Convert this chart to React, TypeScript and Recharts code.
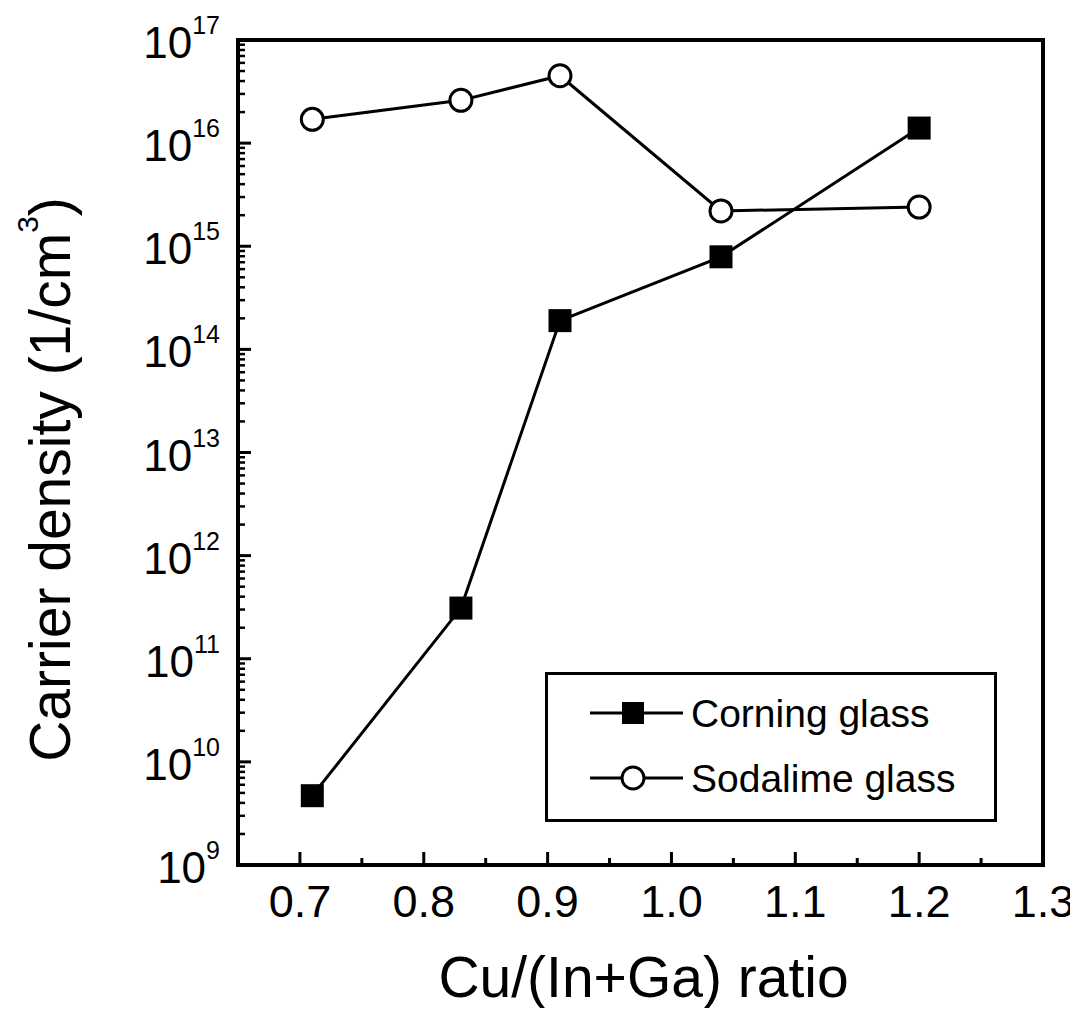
import React from 'react';
import { LineChart, Line, XAxis, YAxis, ReferenceArea, Legend } from 'recharts';

// ---- data ----
const cuRatio = [0.71, 0.83, 0.91, 1.04, 1.2];
const corningGlass = [4.7e9, 3.1e11, 1.9e14, 7.9e14, 1.4e16];
const sodalimeGlass = [1.7e16, 2.6e16, 4.5e16, 2.2e15, 2.4e15];

const seriesNames = ['Corning glass', 'Sodalime glass'];

const xTicks = [0.7, 0.75, 0.8, 0.85, 0.9, 0.95, 1.0, 1.05, 1.1, 1.15, 1.2, 1.25, 1.3];
const yMajorTicks = [1e9, 1e10, 1e11, 1e12, 1e13, 1e14, 1e15, 1e16, 1e17];
const yMinorMultipliers = [2, 3, 4, 5, 6, 7, 8, 9];

const xDomain = [0.65, 1.3];
const yDomain = [1e9, 1e17];

const yTicks: number[] = [];
yMajorTicks.forEach((m, i) => {
  yTicks.push(m);
  if (i < yMajorTicks.length - 1) yMinorMultipliers.forEach((k) => yTicks.push(m * k));
});

const data = cuRatio.map((x, i) => ({ x, corning: corningGlass[i], sodalime: sodalimeGlass[i] }));

const FONT = '"Liberation Sans", Arial, Helvetica, sans-serif';

const YTick = (props: any) => {
  const { x, y, payload } = props;
  const v = payload.value;
  const lg = Math.log10(v);
  const major = Math.abs(lg - Math.round(lg)) < 1e-6;
  const len = major ? 13 : 7;
  return (
    <g>
      <line x1={x} y1={y} x2={x + len} y2={y} stroke="#000" strokeWidth={major ? 3 : 2.5} />
      {major && (
        <text x={x - 18} y={y + 18} textAnchor="end" fontSize={44} fill="#000" fontFamily={FONT}>
          10
          <tspan dy={-24} fontSize={25}>
            {Math.round(lg)}
          </tspan>
        </text>
      )}
    </g>
  );
};

const XTick = (props: any) => {
  const { x, y, payload } = props;
  const v = payload.value;
  const major = Math.abs(v * 10 - Math.round(v * 10)) < 1e-6;
  const len = major ? 13 : 7;
  return (
    <g>
      <line x1={x} y1={y} x2={x} y2={y - len} stroke="#000" strokeWidth={3} />
      {major && (
        <text x={x} y={y + 52} textAnchor="middle" fontSize={45} fill="#000" fontFamily={FONT}>
          {v.toFixed(1)}
        </text>
      )}
    </g>
  );
};

const SquareDot = (props: any) => {
  const { cx, cy, index } = props;
  if (cx == null || cy == null) return <g key={`sq-${index}`} />;
  return <rect key={`sq-${index}`} x={cx - 11.5} y={cy - 11.5} width={23} height={23} fill="#000" />;
};

const XTitle = (props: any) => {
  const vb = props.viewBox || { x: 230, y: 857, width: 805, height: 143 };
  return (
    <text x={vb.x + vb.width / 2 + 3} y={vb.y + 132} textAnchor="middle" fontSize={57} fill="#000" fontFamily={FONT}>
      Cu/(In+Ga) ratio
    </text>
  );
};

const YTitle = (props: any) => {
  const vb = props.viewBox || { x: 0, y: 32, width: 230, height: 825 };
  const cx = vb.x + 62;
  const cy = vb.y + vb.height / 2 + 27;
  return (
    <text
      x={cx}
      y={cy}
      transform={`rotate(-90 ${cx} ${cy})`}
      textAnchor="middle"
      fontSize={57}
      fill="#000"
      fontFamily={FONT}
    >
      Carrier density (1/cm
      <tspan dy={-32} fontSize={30}>
        3
      </tspan>
      <tspan dy={32}>)</tspan>
    </text>
  );
};

const LegendBox = () => (
  <svg width={452} height={150} style={{ display: 'block' }}>
    <rect x={1.5} y={1.5} width={449} height={147} fill="#fff" stroke="#000" strokeWidth={3} />
    <line x1={45} y1={41} x2={138} y2={41} stroke="#000" strokeWidth={3} />
    <rect x={77} y={30} width={22} height={22} fill="#000" />
    <text x={146} y={55} fontSize={39} fill="#000" fontFamily={FONT}>
      {seriesNames[0]}
    </text>
    <line x1={45} y1={106} x2={138} y2={106} stroke="#000" strokeWidth={3} />
    <circle cx={88} cy={106} r={11} fill="#fff" stroke="#000" strokeWidth={3} />
    <text x={146} y={120} fontSize={39} fill="#000" fontFamily={FONT}>
      {seriesNames[1]}
    </text>
  </svg>
);

export default function App() {
  return (
    <div style={{ width: 1070, height: 1000, fontFamily: FONT, background: '#fff' }}>
      <LineChart
        width={1070}
        height={1000}
        data={data}
        margin={{ top: 32, right: 35, left: 0, bottom: 0 }}
        style={{ fontFamily: FONT }}
      >
        <XAxis
          dataKey="x"
          type="number"
          domain={xDomain}
          ticks={xTicks}
          interval={0}
          allowDataOverflow
          height={143}
          axisLine={false}
          tickLine={false}
          tickSize={0}
          tickMargin={0}
          tick={<XTick />}
          label={<XTitle />}
        />
        <YAxis
          type="number"
          scale="log"
          domain={yDomain}
          ticks={yTicks}
          interval={0}
          allowDataOverflow
          width={230}
          axisLine={false}
          tickLine={false}
          tickSize={0}
          tickMargin={0}
          tick={<YTick />}
          label={<YTitle />}
        />
        <ReferenceArea
          x1={xDomain[0]}
          x2={xDomain[1]}
          y1={yDomain[0]}
          y2={yDomain[1]}
          fill="none"
          fillOpacity={0}
          stroke="#000"
          strokeWidth={4}
          ifOverflow="visible"
        />
        <Line
          dataKey="corning"
          name={seriesNames[0]}
          stroke="#000"
          strokeWidth={3}
          dot={<SquareDot />}
          isAnimationActive={false}
        />
        <Line
          dataKey="sodalime"
          name={seriesNames[1]}
          stroke="#000"
          strokeWidth={3}
          dot={{ r: 11, stroke: '#000', strokeWidth: 3, fill: '#fff' }}
          isAnimationActive={false}
        />
        <Legend
          layout="horizontal"
          verticalAlign="middle"
          align="center"
          wrapperStyle={{ position: 'absolute', left: 537, top: 664, width: 452, height: 150 }}
          content={() => <LegendBox />}
        />
      </LineChart>
    </div>
  );
}
